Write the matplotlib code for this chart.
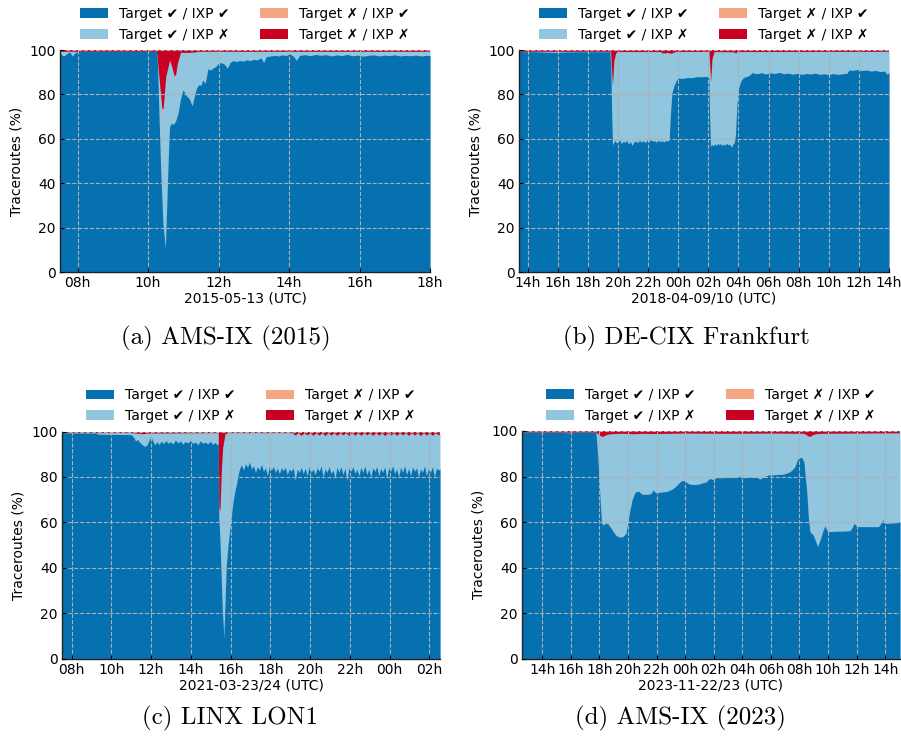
import numpy as np
import pandas as pd
import matplotlib
matplotlib.use("Agg")
import matplotlib.pyplot as plt
import matplotlib.dates as mdates

# colours (RdBu)
C_OK_OK = "#0571b0"
C_OK_FAIL = "#92c5de"
C_FAIL_OK = "#f4a582"
C_FAIL_FAIL = "#ca0020"

LABELS = ["Target \u2714 / IXP \u2714", "Target \u2714 / IXP \u2717",
          "Target \u2717 / IXP \u2714", "Target \u2717 / IXP \u2717"]

# each series: (hours since midnight of first day, cumulative % top of layer)
# ---- (a) AMS-IX 2015 ----
a_day = "2015-05-13"
a_span = [7.5, 18.0]
a_total = [100, 100]
a_dark = [(7.50, 98.8), (7.56, 97.6), (7.62, 97.4), (7.70, 98.5), (7.78, 99.0), (7.85, 97.3),
          (7.92, 98.6), (8.00, 99.4), (8.50, 99.3), (9.00, 99.4), (9.50, 99.3), (10.00, 99.4),
          (10.24, 99.4), (10.27, 92), (10.31, 70), (10.36, 45), (10.42, 22), (10.49, 10.7),
          (10.53, 30), (10.58, 55), (10.61, 65.5), (10.66, 67), (10.72, 66.5), (10.78, 68),
          (10.85, 71.5), (10.92, 78), (10.99, 82), (11.08, 79.5), (11.17, 78), (11.25, 74.8),
          (11.31, 79), (11.37, 82.7), (11.44, 84.5), (11.50, 84), (11.55, 86.5), (11.62, 85),
          (11.70, 91.5), (11.78, 91), (11.85, 92), (11.92, 92.5), (11.99, 94), (12.08, 94.3),
          (12.17, 93.5), (12.25, 91.8), (12.33, 94.5), (12.42, 95.2), (12.50, 94.8), (12.60, 95.3),
          (12.70, 95.0), (12.80, 95.6), (12.90, 95.2), (13.00, 95.8), (13.10, 95.5), (13.20, 96.5),
          (13.28, 94.3), (13.35, 97.0), (13.45, 97.2), (13.60, 97.6), (13.70, 97.3), (13.80, 97.8),
          (13.92, 97.5), (14.02, 98.3), (14.12, 97.2), (14.21, 95.3), (14.30, 97.6), (14.45, 97.9),
          (14.60, 97.4), (14.75, 98.0), (14.90, 97.6), (15.05, 97.9), (15.20, 97.3), (15.35, 97.8),
          (15.50, 97.5), (15.65, 98.0), (15.80, 97.4), (15.95, 97.7), (16.10, 97.2), (16.25, 97.6),
          (16.40, 97.8), (16.55, 97.3), (16.70, 97.7), (16.85, 97.5), (17.00, 97.8), (17.15, 97.3),
          (17.30, 97.6), (17.45, 97.4), (17.60, 97.7), (17.75, 97.3), (17.90, 97.6), (18.00, 97.5)]
a_light = [(7.50, 99.4), (10.24, 99.4), (10.32, 86), (10.41, 70.5), (10.50, 88), (10.61, 95.5),
           (10.68, 92), (10.76, 87.0), (10.83, 94), (10.92, 99.0), (11.10, 98.9), (11.30, 99.1),
           (11.45, 99.4), (18.00, 99.4)]
a_salmon = [(10.37, 74), (10.41, 73.5), (10.45, 74), (10.73, 88), (10.76, 89), (10.79, 88)]

# ---- (b) DE-CIX Frankfurt ----
b_day = "2018-04-09"
b_span = [13.42, 38.0]
b_total = [100, 100]
b_dark = [(13.42, 99.3), (14.5, 99.2), (15.3, 99.0), (16.0, 98.9), (16.5, 99.1), (17.5, 99.2),
          (19.45, 99.2), (19.52, 92), (19.58, 70), (19.63, 57.2), (19.72, 58.5), (19.80, 59.3),
          (19.90, 58.0), (20.00, 58.9), (20.12, 59.5), (20.22, 57.8), (20.35, 59.0), (20.45, 58.4),
          (20.58, 59.2), (20.70, 57.6), (20.82, 58.8), (20.92, 57.0), (21.05, 58.5), (21.18, 59.0),
          (21.30, 58.2), (21.42, 59.3), (21.55, 58.6), (21.68, 59.1), (21.80, 58.3), (21.92, 59.4),
          (22.05, 58.8), (22.18, 59.6), (22.30, 58.9), (22.42, 59.2), (22.55, 58.5), (22.68, 59.4),
          (22.80, 58.7), (22.92, 59.1), (23.05, 58.6), (23.18, 59.3), (23.30, 59.0), (23.40, 59.5),
          (23.47, 70), (23.58, 80.5), (23.72, 84), (23.88, 86.5), (24.02, 87.3), (24.3, 87.2),
          (24.6, 87.6), (24.9, 87.5), (25.2, 88.0), (25.5, 87.9), (25.8, 88.1), (26.03, 88.0),
          (26.08, 72), (26.14, 56.5), (26.22, 57.5), (26.32, 56.8), (26.42, 57.8), (26.52, 57.0),
          (26.62, 58.0), (26.72, 57.2), (26.82, 57.9), (26.92, 56.9), (27.02, 57.7), (27.12, 57.1),
          (27.22, 58.0), (27.32, 57.3), (27.42, 57.6), (27.52, 56.2), (27.62, 57.5), (27.72, 58.2),
          (27.80, 62), (27.90, 76), (28.02, 83), (28.15, 86), (28.33, 87.6), (28.50, 88.0),
          (28.70, 88.5), (28.90, 89.8), (29.2, 89.3), (29.5, 89.8), (29.8, 89.2), (30.1, 89.7),
          (30.4, 89.4), (30.7, 89.9), (31.0, 89.3), (31.3, 89.6), (31.6, 89.1), (31.9, 89.5),
          (32.2, 89.0), (32.5, 89.4), (32.8, 89.2), (33.1, 89.6), (33.4, 89.0), (33.7, 89.3),
          (34.0, 88.9), (34.3, 89.4), (34.6, 89.0), (34.9, 89.3), (35.2, 89.5), (35.35, 91.0),
          (35.6, 90.8), (35.9, 91.2), (36.2, 90.7), (36.5, 91.0), (36.8, 90.5), (37.1, 90.8),
          (37.4, 90.3), (37.7, 90.5), (37.88, 89.0), (38.0, 90.0)]
b_light = [(13.42, 99.4), (19.50, 99.4), (19.63, 84.0), (19.72, 95), (19.85, 98.8), (19.96, 99.3),
           (22.8, 99.3), (23.0, 98.6), (23.3, 98.9), (23.5, 98.5), (23.8, 99.3), (26.04, 99.4),
           (26.15, 85.7), (26.24, 96), (26.38, 99.3), (27.7, 99.2), (27.8, 98.6), (27.9, 99.3),
           (38.0, 99.4)]
b_salmon = [(19.60, 84.5), (19.63, 84.8), (19.66, 84.5), (26.12, 86.0), (26.15, 86.4), (26.18, 86.0)]

# ---- (c) LINX LON1 ----
c_day = "2021-03-23"
c_span = [7.52, 26.53]
c_total = [100, 100]
c_dark = [(7.52, 99.4), (8.5, 99.3), (9.2, 99.3), (9.35, 98.8), (10.2, 98.7), (11.0, 98.6),
          (11.12, 97.5), (11.22, 95.8), (11.32, 96.5), (11.45, 95.0), (11.58, 94.0), (11.69, 93.4),
          (11.80, 94.2), (11.92, 96.5), (12.00, 97.8), (12.08, 96.0), (12.18, 94.2), (12.30, 95.5),
          (12.40, 94.3), (12.52, 95.8), (12.62, 94.6), (12.75, 96.0), (12.85, 94.8), (12.98, 95.5),
          (13.10, 94.5), (13.22, 96.2), (13.35, 95.0), (13.48, 95.8), (13.60, 94.4), (13.72, 95.6),
          (13.85, 94.9), (13.98, 96.1), (14.10, 94.7), (14.22, 95.4), (14.35, 94.2), (14.48, 95.9),
          (14.60, 94.8), (14.72, 95.3), (14.85, 94.5), (14.98, 95.7), (15.10, 94.3), (15.22, 95.2),
          (15.32, 94.0), (15.38, 95.0), (15.40, 63), (15.45, 55), (15.52, 38), (15.58, 22),
          (15.66, 9.0), (15.72, 25), (15.78, 41), (15.88, 51), (15.95, 56), (16.05, 64),
          (16.12, 69), (16.22, 74), (16.30, 77), (16.40, 82), (16.47, 84.0), (16.55, 85.3),
          (16.65, 83.0), (16.75, 85.8), (16.85, 84.2), (16.95, 86.5), (17.05, 83.5), (17.15, 85.0),
          (17.25, 82.0), (17.35, 84.5), (17.45, 83.0), (17.55, 85.5), (17.65, 82.5), (17.75, 84.0),
          (17.85, 80.5), (17.95, 84.8), (18.05, 83.0), (18.15, 84.5), (18.25, 82.0), (18.35, 83.8),
          (18.45, 81.5), (18.55, 84.0), (18.65, 82.8), (18.75, 84.2), (18.85, 81.0), (18.95, 83.5),
          (19.05, 82.5), (19.15, 84.0), (19.25, 78.5), (19.35, 83.5), (19.45, 82.0), (19.55, 84.2),
          (19.65, 81.5), (19.75, 83.8), (19.85, 80.5), (19.95, 84.5), (20.05, 82.0), (20.15, 83.5),
          (20.25, 81.0), (20.35, 84.0), (20.45, 82.5), (20.55, 84.8), (20.65, 80.0), (20.75, 83.5),
          (20.85, 82.0), (20.95, 84.5), (21.05, 81.5), (21.15, 83.0), (21.25, 79.5), (21.35, 84.2),
          (21.45, 82.0), (21.55, 84.5), (21.65, 81.0), (21.75, 83.8), (21.85, 78.5), (21.95, 84.0),
          (22.05, 82.5), (22.15, 84.5), (22.25, 81.5), (22.35, 83.5), (22.45, 80.5), (22.55, 84.2),
          (22.65, 82.0), (22.75, 84.8), (22.85, 81.0), (22.95, 83.5), (23.05, 80.0), (23.15, 84.0),
          (23.25, 82.5), (23.35, 84.5), (23.45, 80.5), (23.55, 83.8), (23.65, 82.0), (23.75, 84.5),
          (23.85, 79.5), (23.95, 84.0), (24.05, 82.5), (24.15, 84.8), (24.25, 81.5), (24.35, 83.5),
          (24.45, 80.0), (24.55, 84.2), (24.65, 82.0), (24.75, 85.0), (24.85, 81.0), (24.95, 83.8),
          (25.05, 80.5), (25.15, 84.5), (25.25, 82.5), (25.35, 84.0), (25.45, 80.0), (25.55, 83.5),
          (25.65, 82.0), (25.75, 84.8), (25.85, 80.5), (25.95, 83.8), (26.05, 82.0), (26.15, 84.5),
          (26.25, 80.0), (26.35, 83.8), (26.45, 83.0), (26.53, 83.5)]
c_light = [(7.52, 99.5), (11.0, 99.5), (11.6, 99.0), (11.8, 99.3), (15.38, 99.5), (15.41, 63.3),
           (15.47, 66), (15.53, 82), (15.60, 93), (15.72, 99.0), (15.85, 99.5), (19.10, 99.5),
           (19.25, 98.4), (19.40, 99.5), (19.55, 98.3), (19.70, 99.5), (19.85, 98.5), (20.00, 99.5),
           (20.15, 98.3), (20.30, 99.5), (20.45, 98.4), (20.60, 99.5), (20.75, 98.2), (20.90, 99.5),
           (21.05, 98.4), (21.20, 99.5), (21.35, 98.3), (21.50, 99.5), (21.65, 98.5), (21.80, 99.5),
           (21.95, 98.2), (22.10, 99.5), (22.25, 98.4), (22.40, 99.5), (22.55, 98.3), (22.70, 99.5),
           (22.85, 98.5), (23.00, 99.5), (23.15, 98.3), (23.30, 99.5), (23.45, 98.4), (23.60, 99.5),
           (23.75, 98.2), (23.90, 99.5), (24.05, 98.4), (24.20, 99.5), (24.35, 98.3), (24.50, 99.5),
           (24.65, 98.5), (24.80, 99.5), (24.95, 98.3), (25.10, 99.5), (25.25, 98.4), (25.40, 99.5),
           (25.55, 98.2), (25.70, 99.5), (25.85, 98.4), (26.00, 99.5), (26.15, 98.3), (26.30, 99.5),
           (26.45, 98.5), (26.53, 99.2)]
c_salmon = [(15.39, 63.5), (15.41, 66.5), (15.45, 66.5), (15.47, 63.0)]

# ---- (d) AMS-IX 2023 ----
d_day = "2023-11-22"
d_span = [12.57, 39.03]
d_total = [100, 100]
d_dark = [(12.57, 99.4), (15.0, 99.4), (16.0, 99.2), (16.2, 99.4), (17.76, 99.4), (17.90, 88),
          (18.05, 70), (18.16, 59.5), (18.27, 58.7), (18.45, 59.6), (18.62, 59.1), (18.80, 57.5),
          (18.97, 55.8), (19.15, 54.3), (19.32, 53.6), (19.50, 53.4), (19.62, 53.6), (19.75, 54.3),
          (19.86, 55.0), (20.00, 60), (20.14, 65.3), (20.30, 70), (20.49, 72.9), (20.64, 73.5),
          (20.79, 73.4), (20.93, 72.4), (21.07, 72.2), (21.30, 72.2), (21.54, 72.3), (21.66, 73.0),
          (21.77, 74.1), (21.88, 73.2), (22.00, 72.9), (22.35, 73.2), (22.70, 73.4), (22.95, 74.0),
          (23.17, 74.8), (23.40, 76.0), (23.64, 77.7), (23.80, 78.2), (23.99, 78.2), (24.15, 77.2),
          (24.34, 76.6), (24.60, 76.5), (24.92, 76.6), (25.20, 77.2), (25.50, 77.7), (25.60, 78.5),
          (25.74, 79.2), (25.85, 78.8), (25.97, 78.8), (26.20, 79.5), (26.60, 79.5), (27.00, 79.6),
          (27.40, 79.5), (27.60, 79.6), (27.83, 80.2), (28.07, 79.5), (28.50, 79.7), (28.88, 79.9),
          (29.05, 79.5), (29.23, 78.9), (29.50, 79.8), (29.82, 80.7), (30.30, 80.8), (30.87, 81.0),
          (31.10, 81.5), (31.33, 82.1), (31.50, 83.0), (31.68, 84.3), (31.80, 86.5), (31.92, 88.0),
          (32.15, 88.4), (32.31, 86.5), (32.40, 80), (32.50, 74.0), (32.62, 62), (32.73, 55.8),
          (32.85, 55.0), (32.96, 54.3), (33.10, 52), (33.27, 49.2), (33.40, 51.5), (33.55, 54.3),
          (33.66, 56.5), (33.78, 58.4), (33.90, 56.5), (34.02, 55.8), (34.50, 56.0), (35.00, 56.0),
          (35.53, 56.2), (35.68, 57.5), (35.81, 59.4), (35.95, 58.5), (36.12, 58.0), (36.80, 58.0),
          (37.51, 58.0), (37.65, 59.0), (37.82, 60.9), (37.95, 59.8), (38.10, 59.4), (38.50, 59.6),
          (38.80, 59.7), (39.03, 60.2)]
d_light = [(12.57, 99.5), (17.76, 99.5), (17.90, 98.8), (18.05, 98.0), (18.20, 97.6), (18.35, 98.0),
           (18.55, 98.6), (18.80, 98.8), (19.50, 99.0), (20.50, 98.8), (21.00, 99.0), (22.00, 98.9),
           (24.00, 99.1), (27.00, 99.0), (30.00, 99.1), (32.30, 99.0), (32.45, 98.5), (32.60, 97.8),
           (32.75, 97.7), (32.90, 98.3), (33.10, 98.8), (33.50, 99.0), (36.00, 99.1), (39.03, 99.2)]
d_salmon = []

captions = ["(a) AMS-IX (2015)", "(b) DE-CIX Frankfurt", "(c) LINX LON1", "(d) AMS-IX (2023)"]
xlabels = ["2015-05-13 (UTC)", "2018-04-09/10 (UTC)", "2021-03-23/24 (UTC)", "2023-11-22/23 (UTC)"]


def to_time(day, hours):
    return (pd.Timestamp(day) + pd.to_timedelta(np.asarray(hours, dtype=float), unit="h")).to_numpy()


def draw_panel(ax, day, span, total, dark, light, salmon, xlabel):
    handles = {}
    # painted back to front, each layer is the cumulative top of the stack
    handles["ff"] = ax.fill_between(to_time(day, span), 0, total, color=C_FAIL_FAIL,
                                    linewidth=0, label=LABELS[3])
    if salmon:
        t, v = zip(*salmon)
        ax.fill_between(to_time(day, t), 0, v, color=C_FAIL_OK, linewidth=0)
    handles["fo"] = ax.fill_between([], [], [], color=C_FAIL_OK, linewidth=0, label=LABELS[2])
    t, v = zip(*light)
    handles["of"] = ax.fill_between(to_time(day, t), 0, v, color=C_OK_FAIL, linewidth=0,
                                    label=LABELS[1])
    t, v = zip(*dark)
    handles["oo"] = ax.fill_between(to_time(day, t), 0, v, color=C_OK_OK, linewidth=0,
                                    label=LABELS[0])

    ax.set_xlim(to_time(day, span))
    ax.set_ylim(0, 100)
    ax.set_yticks(range(0, 101, 20))
    ax.xaxis.set_major_locator(mdates.HourLocator(byhour=range(0, 24, 2)))
    ax.xaxis.set_major_formatter(mdates.DateFormatter("%Hh"))
    ax.set_axisbelow(False)
    ax.grid(True, linestyle="--", color="#b0b0b0", linewidth=0.8)
    for side in ["top", "right"]:
        ax.spines[side].set_visible(False)
    for side in ["left", "bottom"]:
        ax.spines[side].set_color("#222222")
        ax.spines[side].set_linewidth(1.0)
    ax.tick_params(direction="in", length=3, width=0.8, pad=3, labelsize=10)
    ax.set_xlabel(xlabel, fontsize=10, labelpad=1)
    ax.set_ylabel("Traceroutes (%)", fontsize=10)
    order = [handles["oo"], handles["of"], handles["fo"], handles["ff"]]
    ax.legend(order, LABELS, loc="lower center", bbox_to_anchor=(0.5, 1.0), ncol=2,
              frameon=False, fontsize=10, borderaxespad=0.2, columnspacing=2.2)


fig = plt.figure(figsize=(9.01, 7.39), dpi=100)
W, H = 901, 739
boxes = [(60, 50, 430, 272), (519, 50, 889, 272), (62, 431.5, 440, 658.7), (521.7, 431, 900, 658.7)]
panels = [(a_day, a_span, a_total, a_dark, a_light, a_salmon),
          (b_day, b_span, b_total, b_dark, b_light, b_salmon),
          (c_day, c_span, c_total, c_dark, c_light, c_salmon),
          (d_day, d_span, d_total, d_dark, d_light, d_salmon)]
cap_x = [226, 686, 230, 680]
cap_y = [338, 338, 718, 718]

for i, (box, data) in enumerate(zip(boxes, panels)):
    x0, y0, x1, y1 = box
    ax = fig.add_axes([x0 / W, 1 - y1 / H, (x1 - x0) / W, (y1 - y0) / H])
    draw_panel(ax, *data, xlabels[i])
    fig.text(cap_x[i] / W, 1 - cap_y[i] / H, captions[i], ha="center", va="center",
             fontsize=18, family="cmr10")

fig.savefig("out.png", dpi=100)
